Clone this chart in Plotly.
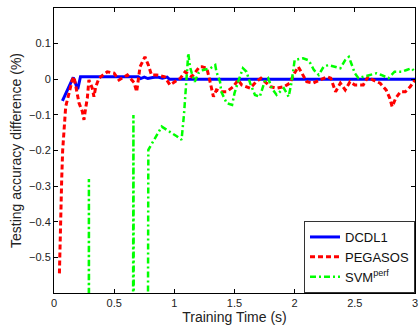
import plotly.graph_objects as go

# DCDL1
dcdl_x = [0.07, 0.16, 0.197, 0.22, 0.70, 0.72, 0.75, 0.78, 0.82, 0.86, 0.90, 0.94, 0.96, 3.0]
dcdl_y = [-0.061, 0.005, -0.028, 0.007, 0.007, 0.002, 0.006, 0.002, 0.005, 0.006, 0.003, 0.006, 0.0, 0.0]

# PEGASOS
peg_x = [0.045, 0.05, 0.057, 0.064, 0.072, 0.085, 0.097, 0.125, 0.152, 0.166, 0.194, 0.208, 0.235,
         0.249, 0.263, 0.277, 0.29, 0.318, 0.332, 0.347, 0.374, 0.443, 0.499, 0.54, 0.61, 0.665,
         0.687, 0.715, 0.756, 0.784, 0.81, 0.853, 0.92, 0.964, 1.05, 1.09, 1.145, 1.21, 1.23, 1.27,
         1.29, 1.31, 1.325, 1.35, 1.39, 1.435, 1.49, 1.53, 1.56, 1.63, 1.68, 1.72, 1.80, 1.85, 1.91,
         1.96, 1.99, 2.03, 2.06, 2.10, 2.15, 2.21, 2.27, 2.30, 2.34, 2.38, 2.42, 2.46, 2.50, 2.57,
         2.61, 2.65, 2.71, 2.76, 2.79, 2.81, 2.84, 2.88, 2.92, 2.96, 3.0]
peg_y = [-0.545, -0.45, -0.35, -0.28, -0.2, -0.13, -0.077, -0.039, -0.002, 0.007, -0.039, -0.067, -0.09,
         -0.114, -0.081, -0.053, -0.002, -0.025, -0.049, -0.021, 0.003, 0.021, 0.017, -0.002, 0.012, -0.009,
         -0.035, 0.035, 0.063, 0.04, 0.012, 0.012, 0.007, -0.016, 0.003, 0.021, 0.007, 0.035, 0.035, 0.031,
         0.003, -0.025, -0.049, -0.03, -0.035, -0.035, -0.021, -0.002, -0.016, -0.025, -0.007, 0.003, -0.021, -0.025, -0.021,
         -0.011, 0.012, 0.035, 0.017, -0.007, -0.011, -0.002, 0.007, 0.003, -0.035, -0.011, -0.03, -0.007, -0.016, -0.016,
         0.007, -0.002, -0.011, -0.03, -0.053, -0.077, -0.053, -0.035, -0.035, -0.021, -0.002]

# SVMperf
svm_x = [0.05, 0.285, 0.29, 0.295, 0.645, 0.66, 0.675, 0.765, 0.784, 0.895, 0.964, 1.02, 1.06, 1.08,
         1.116, 1.13, 1.145, 1.17, 1.2, 1.24, 1.30, 1.34, 1.35, 1.38, 1.39, 1.435, 1.48, 1.50, 1.53,
         1.57, 1.60, 1.63, 1.67, 1.71, 1.75, 1.78, 1.81, 1.85, 1.91, 1.95, 1.975, 2.00, 2.07, 2.11,
         2.13, 2.16, 2.20, 2.24, 2.28, 2.34, 2.38, 2.42, 2.45, 2.47, 2.50, 2.53, 2.57, 2.63, 2.68,
         2.72, 2.78, 2.83, 2.89, 2.93, 2.97, 3.0]
svm_y = [-3.0, -3.0, -0.28, -3.0, -3.0, -0.1, -3.0, -3.0, -0.198, -0.133, -0.147, -0.16, -0.17, -0.1,
         0.073, 0.035, 0.017, -0.007, 0.017, 0.026, 0.031, 0.04, 0.021, -0.007, -0.035, -0.067, -0.072, -0.039, -0.007,
         0.031, 0.021, -0.011, -0.044, -0.049, -0.007, 0.003, -0.025, -0.044, -0.025, -0.049, -0.007, 0.054, 0.059, 0.054,
         0.045, 0.026, 0.012, 0.035, 0.04, 0.035, 0.031, 0.054, 0.063, 0.045, 0.017, 0.003, 0.007, 0.012, 0.017,
         0.012, 0.003, 0.021, 0.021, 0.026, 0.031, 0.021]

x_ticks = [0, 0.5, 1, 1.5, 2, 2.5, 3]
x_labels = ["0", "0.5", "1", "1.5", "2", "2.5", "3"]
y_ticks = [-0.5, -0.4, -0.3, -0.2, -0.1, 0, 0.1]
y_labels = ["\u22120.5", "\u22120.4", "\u22120.3", "\u22120.2", "\u22120.1", "0", "0.1"]

FONT = "Liberation Sans, Arial, Helvetica, sans-serif"

fig = go.Figure()
fig.add_trace(go.Scatter(x=dcdl_x, y=dcdl_y, mode="lines", name="DCDL1",
                         line=dict(color="#0000ff", width=3)))
fig.add_trace(go.Scatter(x=peg_x, y=peg_y, mode="lines", name="PEGASOS",
                         line=dict(color="#ff0000", width=3, dash="5px,3px")))
fig.add_trace(go.Scatter(x=svm_x, y=svm_y, mode="lines", name="SVM<sup>perf</sup>",
                         line=dict(color="#00ff00", width=2.5, dash="6px,3px,2px,3px")))

axis_common = dict(showline=True, linecolor="black", linewidth=1, mirror="ticks",
                   ticks="inside", ticklen=4, tickcolor="black", showgrid=False,
                   zeroline=False, automargin=False,
                   tickfont=dict(family=FONT, size=11, color="#222"))

fig.update_layout(
    width=419, height=326,
    margin=dict(l=54, r=4, t=8, b=33),
    paper_bgcolor="white", plot_bgcolor="white",
    font=dict(family=FONT, size=13, color="#222"),
    xaxis=dict(range=[0, 3], tickvals=x_ticks, ticktext=x_labels,
               title=dict(text="Training Time (s)", font=dict(family=FONT, size=14), standoff=0),
               **axis_common),
    yaxis=dict(range=[-0.6, 0.2], tickvals=y_ticks, ticktext=y_labels,
               title=dict(text="Testing accuracy difference (%)", font=dict(family=FONT, size=14), standoff=4),
               **axis_common),
    legend=dict(x=1, xanchor="right", y=0, yanchor="bottom", bgcolor="white",
                bordercolor="#333", borderwidth=1, font=dict(family=FONT, size=13, color="#111"),
                tracegroupgap=0, itemwidth=30),
    showlegend=True,
)

fig.write_html("out.html", config={"displayModeBar": False},
               post_script="document.body.style.margin='0';document.body.style.overflow='hidden';")
